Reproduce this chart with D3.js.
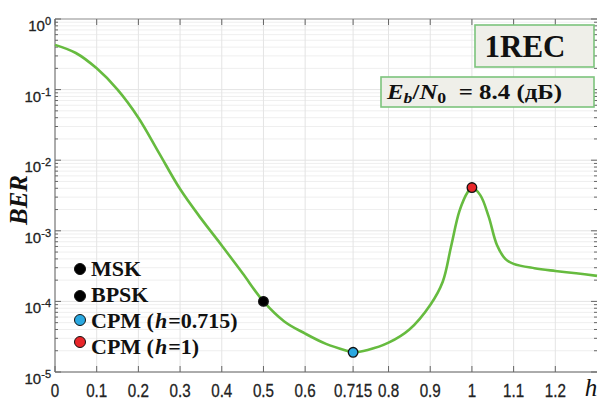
<!DOCTYPE html>
<html><head><meta charset="utf-8">
<script src="https://cdn.jsdelivr.net/npm/d3@7"></script>
<style>body{margin:0;background:#fff}svg{display:block}</style>
</head><body>
<svg id="c" width="598" height="401"></svg>
<script>
// ---- data ----
const hValues   = [0, 0.05, 0.1, 0.15, 0.2, 0.25, 0.3, 0.35, 0.4, 0.45, 0.5, 0.55, 0.6, 0.65, 0.7, 0.715, 0.75, 0.8, 0.85, 0.9, 0.93, 0.95, 0.97, 0.99, 1.0, 1.02, 1.04, 1.06, 1.08, 1.1, 1.15, 1.2, 1.25, 1.3];
const berValues = [0.43, 0.33, 0.2, 0.1, 0.04, 0.0125, 3.9e-3, 1.5e-3, 6.2e-4, 2.5e-4, 1.0e-4, 5.2e-5, 3.5e-5, 2.5e-5, 2.0e-5, 1.9e-5, 2.05e-5, 2.6e-5, 4.0e-5, 8.9e-5, 1.9e-4, 6.0e-4, 1.9e-3, 3.55e-3, 4.1e-3, 3.2e-3, 1.6e-3, 6.3e-4, 4.0e-4, 3.4e-4, 2.95e-4, 2.7e-4, 2.5e-4, 2.3e-4];
const markerH     = [0.5, 0.715, 1.0];
const markerBer   = [1.0e-4, 1.9e-5, 4.1e-3];
const markerFill  = ["#000000", "#2aa8e0", "#e8262a"];
const legendLabels = [["MSK"], ["BPSK"], ["CPM (", "h", "=0.715)"], ["CPM (", "h", "=1)"]];
const legendFill   = ["#000000", "#000000", "#2aa8e0", "#e8262a"];
const xTicks = [0, 0.1, 0.2, 0.3, 0.4, 0.5, 0.6, 0.715, 0.8, 0.9, 1, 1.1, 1.2];
const xTickLabels = ["0", "0.1", "0.2", "0.3", "0.4", "0.5", "0.6", "0.715", "0.8", "0.9", "1", "1.1", "1.2"];
const yExponents = [0, -1, -2, -3, -4, -5];
const titleText = "1REC";
const ebnoValue = "8.4";

// ---- layout ----
const L = 55, R = 597, T = 19, B = 372;
const svg = d3.select("#c");
const x = d3.scaleLinear().domain([0, 1.3]).range([L, R]);
const y = d3.scaleLog().domain([1e-5, 1]).range([B, T]);

// grid
const minorVals = [];
for (let e = -5; e < 0; e++) for (let m = 2; m <= 9; m++) minorVals.push(m * Math.pow(10, e));
const grid = svg.append("g");
grid.selectAll("line.mn").data(minorVals).join("line")
  .attr("x1", L).attr("x2", R).attr("y1", d => y(d)).attr("y2", d => y(d))
  .attr("stroke", "#efefef").attr("stroke-width", 1);
grid.selectAll("line.mj").data(yExponents).join("line")
  .attr("x1", L).attr("x2", R).attr("y1", d => y(Math.pow(10, d))).attr("y2", d => y(Math.pow(10, d)))
  .attr("stroke", "#e4e4e4").attr("stroke-width", 1);
grid.selectAll("line.vx").data(xTicks).join("line")
  .attr("x1", d => x(d)).attr("x2", d => x(d)).attr("y1", T).attr("y2", B)
  .attr("stroke", "#e4e4e4").attr("stroke-width", 1);

// axes frame
const ax = svg.append("g").attr("stroke", "#666").attr("stroke-width", 1);
ax.append("line").attr("x1", L).attr("x2", L).attr("y1", T).attr("y2", B);
ax.append("line").attr("x1", L).attr("x2", R).attr("y1", B).attr("y2", B);
ax.append("line").attr("x1", L).attr("x2", R).attr("y1", T).attr("y2", T).attr("stroke", "#999");
ax.selectAll("line.bt").data(xTicks).join("line")
  .attr("x1", d => x(d)).attr("x2", d => x(d)).attr("y1", B).attr("y2", B - 6);
ax.selectAll("line.tt").data(xTicks).join("line")
  .attr("x1", d => x(d)).attr("x2", d => x(d)).attr("y1", T).attr("y2", T + 6);
ax.selectAll("line.lm").data(minorVals).join("line")
  .attr("x1", L).attr("x2", L + 3).attr("y1", d => y(d)).attr("y2", d => y(d));
ax.selectAll("line.lj").data(yExponents).join("line")
  .attr("x1", L).attr("x2", L + 6).attr("y1", d => y(Math.pow(10, d))).attr("y2", d => y(Math.pow(10, d)));
ax.selectAll("line.rm").data(minorVals).join("line")
  .attr("x1", R).attr("x2", R - 3).attr("y1", d => y(d)).attr("y2", d => y(d));
ax.selectAll("line.rj").data(yExponents).join("line")
  .attr("x1", R).attr("x2", R - 6).attr("y1", d => y(Math.pow(10, d))).attr("y2", d => y(Math.pow(10, d)));

// x tick labels
svg.append("g").selectAll("text").data(xTicks).join("text")
  .attr("transform", d => `translate(${x(d)},397) scale(0.8,1)`)
  .attr("text-anchor", "middle")
  .attr("font-family", "Liberation Sans, Arial, sans-serif")
  .attr("font-size", 19).attr("fill", "#222").attr("stroke", "#222").attr("stroke-width", 0.3)
  .text((d, i) => xTickLabels[i]);

// y tick labels
const yl = svg.append("g").attr("font-family", "Liberation Sans, Arial, sans-serif").attr("fill", "#222");
yExponents.forEach(e => {
  const yy = y(Math.pow(10, e));
  const t = yl.append("text").attr("x", 51).attr("y", yy + 12).attr("text-anchor", "end")
    .attr("font-size", 15).attr("stroke", "#222").attr("stroke-width", 0.3);
  t.append("tspan").text("10");
  t.append("tspan").attr("font-size", 11).attr("dy", -6).text(e === 0 ? "0" : "-" + Math.abs(e));
});

// curve
const line = d3.line().x(d => x(d[0])).y(d => y(d[1])).curve(d3.curveCatmullRom.alpha(0.5));
svg.append("path").datum(hValues.map((h, i) => [h, berValues[i]]))
  .attr("d", line).attr("fill", "none").attr("stroke", "#66bb3f").attr("stroke-width", 2.6);

// markers
svg.append("g").selectAll("circle").data(markerH).join("circle")
  .attr("cx", d => x(d)).attr("cy", (d, i) => y(markerBer[i])).attr("r", 4.8)
  .attr("fill", (d, i) => markerFill[i]).attr("stroke", "#111").attr("stroke-width", 1.3);

// legend
const leg = svg.append("g");
const legDotY = [269, 296, 320, 342];
const legTextY = [276, 302, 328, 354];
legendLabels.forEach((parts, i) => {
  leg.append("circle").attr("cx", 80).attr("cy", legDotY[i]).attr("r", 5.5)
    .attr("fill", legendFill[i]).attr("stroke", "#111").attr("stroke-width", 1);
  const t = leg.append("text").attr("x", 91).attr("y", legTextY[i])
    .attr("font-family", "Liberation Serif, Times New Roman, serif").attr("font-weight", "bold")
    .attr("font-size", 22).attr("fill", "#111");
  parts.forEach((p) => {
    const s = t.append("tspan").text(p);
    if (p === "h") s.attr("font-style", "italic").attr("dx", 1);
    else if (parts.length > 1 && p.startsWith("=")) s.attr("dx", 1);
  });
});

// axis labels
svg.append("text").attr("transform", "translate(27,200) rotate(-90)")
  .attr("text-anchor", "middle").attr("font-family", "Liberation Serif, Times New Roman, serif")
  .attr("font-style", "italic").attr("font-weight", "bold").attr("font-size", 25).attr("fill", "#111")
  .text("BER");
svg.append("text").attr("x", 591).attr("y", 396).attr("text-anchor", "middle")
  .attr("font-family", "Liberation Serif, Times New Roman, serif").attr("font-style", "italic")
  .attr("font-size", 25).attr("fill", "#111").text("h");

// boxes
svg.append("rect").attr("x", 475).attr("y", 25).attr("width", 119).attr("height", 42)
  .attr("fill", "#efefe9").attr("stroke", "#7cc47c").attr("stroke-width", 1.6);
svg.append("text").attr("x", 525).attr("y", 57).attr("text-anchor", "middle")
  .attr("font-family", "Liberation Serif, Times New Roman, serif").attr("font-weight", "bold")
  .attr("font-size", 31).attr("fill", "#111").text(titleText);

svg.append("rect").attr("x", 381).attr("y", 77).attr("width", 213).attr("height", 30)
  .attr("fill", "#efefe9").attr("stroke", "#7cc47c").attr("stroke-width", 1.6);
const et = svg.append("text").attr("x", 387).attr("y", 99)
  .attr("font-family", "Liberation Serif, Times New Roman, serif").attr("font-weight", "bold")
  .attr("font-size", 21).attr("fill", "#111")
  .attr("textLength", 175).attr("lengthAdjust", "spacingAndGlyphs");
et.append("tspan").attr("font-style", "italic").text("E");
et.append("tspan").attr("font-style", "italic").attr("font-size", 15).attr("dy", 4).text("b");
et.append("tspan").attr("dy", -4).text("/");
et.append("tspan").attr("font-style", "italic").text("N");
et.append("tspan").attr("font-size", 15).attr("dy", 4).text("0");
et.append("tspan").attr("dy", -4).text("\u00a0\u00a0= " + ebnoValue + " (дБ)");
</script>
</body></html>
